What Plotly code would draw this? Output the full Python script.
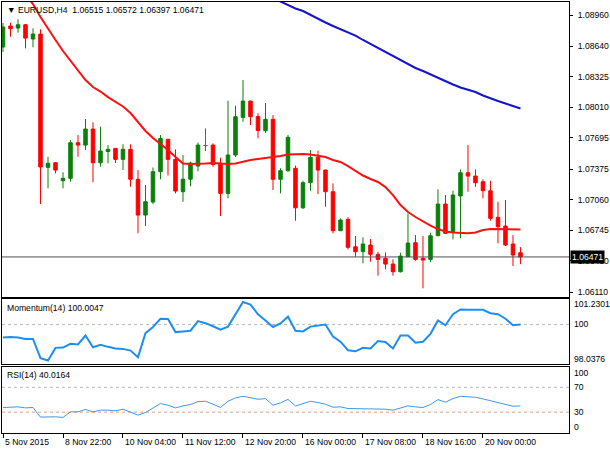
import plotly.graph_objects as go

# ---------------- data ----------------
symbol = "EURUSD,H4"

tick_idx = [0, 8, 16, 24, 32, 40, 48, 56, 64]
tick_labels = ["5 Nov 2015", "8 Nov 22:00", "10 Nov 04:00", "11 Nov 12:00",
               "12 Nov 20:00", "16 Nov 00:00", "17 Nov 08:00", "18 Nov 16:00",
               "20 Nov 00:00"]

open_ = [1.08631, 1.08847, 1.08826, 1.08860, 1.08713, 1.08764, 1.07393, 1.07440, 1.07255, 1.07280,
         1.07646, 1.07622, 1.07787, 1.07440, 1.07556, 1.07588, 1.07475, 1.07578, 1.07270, 1.06902,
         1.07036, 1.07348, 1.07682, 1.07475, 1.07142, 1.07271, 1.07406, 1.07617, 1.07622, 1.07429,
         1.07125, 1.07520, 1.07907, 1.08075, 1.07916, 1.07770, 1.07887, 1.07270, 1.07358, 1.07383,
         1.06977, 1.07235, 1.07496, 1.07365, 1.07142, 1.06741, 1.06858, 1.06576, 1.06525, 1.06594,
         1.06498, 1.06457, 1.06398, 1.06319, 1.06473, 1.06617, 1.06457, 1.06446, 1.06689, 1.07015,
         1.06730, 1.07098, 1.07337, 1.07303, 1.07245, 1.07152, 1.06879, 1.06789, 1.06604, 1.06515]
high = [1.08878, 1.08881, 1.08916, 1.08867, 1.08823, 1.08813, 1.07502, 1.07448, 1.07342, 1.07674,
        1.07725, 1.07890, 1.07856, 1.07811, 1.07622, 1.07592, 1.07630, 1.07630, 1.07365, 1.07211,
        1.07391, 1.07725, 1.07684, 1.07578, 1.07520, 1.07451, 1.07648, 1.07794, 1.07640, 1.07492,
        1.08078, 1.08027, 1.08291, 1.08078, 1.07949, 1.08055, 1.07931, 1.07383, 1.07725, 1.07410,
        1.07255, 1.07571, 1.07564, 1.07370, 1.07228, 1.06868, 1.06879, 1.06686, 1.06673, 1.06655,
        1.06525, 1.06518, 1.06446, 1.06514, 1.06918, 1.06696, 1.06686, 1.06720, 1.07167, 1.07108,
        1.07152, 1.07372, 1.07622, 1.07372, 1.07270, 1.07255, 1.07039, 1.07057, 1.06696, 1.06572]
low = [1.08579, 1.08737, 1.08778, 1.08617, 1.08628, 1.07015, 1.07177, 1.07331, 1.07177, 1.07245,
       1.07502, 1.07571, 1.07239, 1.07399, 1.07434, 1.07437, 1.07365, 1.07193, 1.06714, 1.06789,
       1.07015, 1.07270, 1.07309, 1.07125, 1.07039, 1.07198, 1.07352, 1.07561, 1.07399, 1.06892,
       1.07074, 1.07499, 1.07862, 1.07828, 1.07691, 1.07746, 1.07159, 1.07125, 1.07348, 1.06844,
       1.06964, 1.07152, 1.07118, 1.06988, 1.06714, 1.06738, 1.06549, 1.06473, 1.06405, 1.06422,
       1.06278, 1.06344, 1.06278, 1.06311, 1.06470, 1.06432, 1.06148, 1.06416, 1.06686, 1.06707,
       1.06652, 1.06662, 1.07142, 1.07193, 1.07074, 1.06844, 1.06611, 1.06583, 1.06377, 1.06397]
close = [1.08837, 1.08819, 1.08860, 1.08723, 1.08764, 1.07396, 1.07434, 1.07365, 1.07280, 1.07646,
         1.07622, 1.07787, 1.07440, 1.07561, 1.07578, 1.07475, 1.07578, 1.07270, 1.06902, 1.07039,
         1.07348, 1.07689, 1.07475, 1.07149, 1.07271, 1.07437, 1.07622, 1.07617, 1.07422, 1.07125,
         1.07520, 1.07914, 1.08075, 1.07914, 1.07772, 1.07887, 1.07270, 1.07358, 1.07702, 1.06977,
         1.07235, 1.07496, 1.07365, 1.07142, 1.06741, 1.06851, 1.06570, 1.06525, 1.06604, 1.06498,
         1.06446, 1.06398, 1.06319, 1.06480, 1.06614, 1.06446, 1.06439, 1.06689, 1.07015, 1.06714,
         1.07108, 1.07337, 1.07303, 1.07235, 1.07152, 1.06868, 1.06782, 1.06594, 1.06491, 1.06471]

# red moving average (starts at bar 3)
ma_red_start = 3
ma_red = [1.09166, 1.09073, 1.08939, 1.08816, 1.08703, 1.08590, 1.08487, 1.08384, 1.08291, 1.08219,
          1.08173, 1.08116, 1.08065, 1.08019, 1.07952, 1.07859, 1.07767, 1.07694, 1.07633, 1.07571,
          1.07499, 1.07432, 1.07427, 1.07427, 1.07432, 1.07437, 1.07432, 1.07427, 1.07432, 1.07453,
          1.07468, 1.07478, 1.07489, 1.07494, 1.07509, 1.07525, 1.07530, 1.07530, 1.07525, 1.07514,
          1.07499, 1.07468, 1.07448, 1.07406, 1.07355, 1.07309, 1.07273, 1.07242, 1.07190, 1.07108,
          1.07005, 1.06933, 1.06882, 1.06835, 1.06794, 1.06758, 1.06732, 1.06722, 1.06717, 1.06714,
          1.06722, 1.06748, 1.06758, 1.06755, 1.06755, 1.06755, 1.06753]

# blue moving average (starts at bar 36)
ma_blue_start = 36
ma_blue = [1.09135, 1.09099, 1.09063, 1.09027, 1.09001, 1.08960, 1.08919, 1.08883, 1.08847, 1.08816,
           1.08785, 1.08749, 1.08703, 1.08662, 1.08620, 1.08579, 1.08543, 1.08497, 1.08456, 1.08415,
           1.08384, 1.08348, 1.08317, 1.08281, 1.08245, 1.08214, 1.08193, 1.08168, 1.08132, 1.08101,
           1.08075, 1.08049, 1.08023, 1.07998]

momentum = [99.290, 99.327, 99.290, 99.215, 99.215, 98.168, 98.0376, 98.729, 98.748, 98.953,
            98.916, 99.402, 98.766, 98.897, 98.785, 98.692, 98.673, 98.579, 98.224, 99.533,
            99.869, 100.318, 100.299, 99.589, 99.626, 99.664, 100.187, 100.075, 99.907, 99.720,
            99.888, 100.523, 101.2301, 101.084, 100.561, 100.224, 99.869, 100.056, 100.430, 99.664,
            99.626, 99.888, 99.944, 100.000, 99.346, 99.065, 98.598, 98.542, 98.729, 98.692,
            99.103, 99.047, 98.692, 99.402, 99.402, 99.009, 99.065, 99.495, 100.224, 99.963,
            100.561, 100.822, 100.804, 100.804, 100.804, 100.617, 100.561, 100.318, 99.963, 100.0047]

rsi = [37.47, 37.47, 38.53, 36.93, 37.47, 22.00, 22.53, 22.53, 21.47, 30.53,
       30.53, 34.27, 30.53, 33.20, 33.20, 32.13, 34.80, 30.53, 25.20, 29.47,
       36.93, 43.87, 41.20, 36.93, 40.13, 42.27, 47.07, 47.60, 42.80, 37.47,
       47.60, 52.93, 55.60, 53.47, 50.80, 51.87, 41.20, 44.93, 50.53, 39.87,
       43.87, 47.60, 45.47, 42.80, 38.00, 38.53, 35.87, 35.87, 35.87, 35.87,
       34.80, 34.80, 33.20, 36.93, 40.13, 38.53, 37.47, 42.27, 50.27, 46.00,
       51.87, 55.60, 55.07, 54.00, 51.33, 48.67, 46.00, 42.27, 39.60, 40.0164]

price_ticks = [1.08960, 1.08640, 1.08325, 1.08010, 1.07695, 1.07375, 1.07060, 1.06745, 1.06430, 1.06110]
mom_ticks = [101.2301, 100, 98.0376]
rsi_ticks = [100, 70, 30, 0]
mom_levels = [100]
rsi_levels = [70, 30]

# ---------------- styling ----------------
W, H = 610, 450
FONT = "Liberation Sans"
FS = 8.6
GREEN = "#0a800a"
RED = "#ff0000"
GRAY = "#606060"

def px_x(p):
    return p / W

def px_y(p):
    return 1 - p / H

XD = [px_x(2), px_x(569)]
XR = [-0.133, 75.47]

n = len(close)
idx = list(range(n))
up = [i for i in idx if close[i] > open_[i]]
dn = [i for i in idx if close[i] < open_[i]]
dj = [i for i in idx if close[i] == open_[i]]

fig = go.Figure()

def add_candles(sel, color):
    fig.add_trace(go.Candlestick(
        x=sel,
        open=[open_[i] for i in sel], high=[high[i] for i in sel],
        low=[low[i] for i in sel], close=[close[i] for i in sel],
        increasing=dict(line=dict(color=color, width=1), fillcolor=color),
        decreasing=dict(line=dict(color=color, width=1), fillcolor=color),
        whiskerwidth=0, xaxis="x", yaxis="y", showlegend=False, hoverinfo="skip"))

add_candles(up, GREEN)
add_candles(dn, RED)
add_candles(dj, GRAY)

fig.add_trace(go.Scatter(x=list(range(ma_red_start, ma_red_start + len(ma_red))), y=ma_red,
                         mode="lines", line=dict(color="#ff1010", width=2),
                         xaxis="x", yaxis="y", showlegend=False, hoverinfo="skip"))
fig.add_trace(go.Scatter(x=list(range(ma_blue_start, ma_blue_start + len(ma_blue))), y=ma_blue,
                         mode="lines", line=dict(color="#1414c8", width=2),
                         xaxis="x", yaxis="y", showlegend=False, hoverinfo="skip"))

fig.add_trace(go.Scatter(x=idx, y=momentum, mode="lines",
                         line=dict(color="#1e8fef", width=2),
                         xaxis="x2", yaxis="y2", showlegend=False, hoverinfo="skip"))
fig.add_trace(go.Scatter(x=idx, y=rsi, mode="lines",
                         line=dict(color="#3f97ea", width=1),
                         xaxis="x3", yaxis="y3", showlegend=False, hoverinfo="skip"))

# level lines
for lv in mom_levels:
    fig.add_shape(type="line", xref="x2 domain", yref="y2", x0=0, x1=1, y0=lv, y1=lv,
                  line=dict(color="#b8b8b8", width=1, dash="dot"), layer="below")
rsi_level_colors = ["#b8b8b8", "#e0a080"]
for lv, c in zip(rsi_levels, rsi_level_colors):
    fig.add_shape(type="line", xref="x3 domain", yref="y3", x0=0, x1=1, y0=lv, y1=lv,
                  line=dict(color=c, width=1, dash="dot"), layer="below")

# bid line
fig.add_shape(type="line", xref="x domain", yref="y", x0=0, x1=1, y0=close[-1], y1=close[-1],
              line=dict(color="#505050", width=1))

axis_common = dict(showline=True, mirror=True, linecolor="black", linewidth=1,
                   showgrid=False, zeroline=False, automargin=False)

fig.update_layout(
    width=W, height=H, margin=dict(l=0, r=0, t=0, b=0),
    template="none",
    paper_bgcolor="white", plot_bgcolor="white",
    showlegend=False, hovermode=False,
    font=dict(family=FONT, size=FS, color="black"),
    boxgap=0.33,
    xaxis=dict(domain=XD, range=XR, anchor="y", showticklabels=False, ticks="",
               rangeslider=dict(visible=False), **axis_common),
    yaxis=dict(domain=[px_y(297), px_y(2)], range=[1.06059, 1.09094], anchor="x", side="right",
               tickvals=price_ticks, ticktext=[f"{v:.5f}" for v in price_ticks],
               ticks="outside", ticklen=3, tickcolor="black", ticklabelstandoff=3,
               tickfont=dict(family=FONT, size=FS, color="black"), **axis_common),
    xaxis2=dict(domain=XD, range=XR, anchor="y2", showticklabels=False, ticks="", **axis_common),
    yaxis2=dict(domain=[px_y(364), px_y(298.5)], range=[97.85, 101.42], anchor="x2", side="right",
                showticklabels=False, ticks="", **axis_common),
    xaxis3=dict(domain=XD, range=XR, anchor="y3", tickvals=tick_idx, showticklabels=False,
                ticks="outside", ticklen=4, tickcolor="black", **axis_common),
    yaxis3=dict(domain=[px_y(433), px_y(366.5)], range=[-3.6, 103.6], anchor="x3", side="right",
                showticklabels=False, ticks="", **axis_common),
)

afont = dict(family=FONT, size=FS, color="black")
annotations = [
    dict(text="\u25bc " + symbol + "\u00a0\u00a0" + " ".join(f"{v:.5f}" for v in (open_[-1], high[-1], low[-1], close[-1])),
         xref="paper", yref="paper", x=px_x(5), y=px_y(10), xanchor="left", yanchor="middle",
         showarrow=False, font=afont),
    dict(text=f"Momentum(14) {momentum[-1]:.4f}", xref="paper", yref="paper",
         x=px_x(5), y=px_y(308), xanchor="left", yanchor="middle", showarrow=False, font=afont),
    dict(text=f"RSI(14) {rsi[-1]:.4f}", xref="paper", yref="paper",
         x=px_x(5), y=px_y(375), xanchor="left", yanchor="middle", showarrow=False, font=afont),
    dict(text=f"{close[-1]:.5f}", xref="paper", yref="y", x=px_x(570), y=close[-1],
         xanchor="left", yanchor="middle", showarrow=False, bgcolor="black", borderpad=1,
         font=dict(family=FONT, size=FS, color="white")),
]
# indicator scale labels (extreme labels are kept inside their panel, as in MetaTrader)
mom_shift = [-2, 1, 2]
for v, s in zip(mom_ticks, mom_shift):
    annotations.append(dict(text=str(v), xref="paper", yref="y2", x=px_x(572), y=v, yshift=s,
                            xanchor="left", yanchor="middle", showarrow=False, font=afont))
rsi_shift = [-4, 0, 0, 4]
for v, s in zip(rsi_ticks, rsi_shift):
    annotations.append(dict(text=str(v), xref="paper", yref="y3", x=px_x(572), y=v, yshift=s,
                            xanchor="left", yanchor="middle", showarrow=False, font=afont))
# time-axis labels, drawn to the right of their tick marks like the reference
for ti, tl in zip(tick_idx, tick_labels):
    annotations.append(dict(text=tl, xref="x3", yref="paper", x=ti, y=px_y(442),
                            xanchor="left", yanchor="middle", showarrow=False, font=afont))
fig.update_layout(annotations=annotations)

fig.write_html("out.html", config={"displayModeBar": False},
               post_script="document.body.style.margin='0';document.body.style.overflow='hidden';")
